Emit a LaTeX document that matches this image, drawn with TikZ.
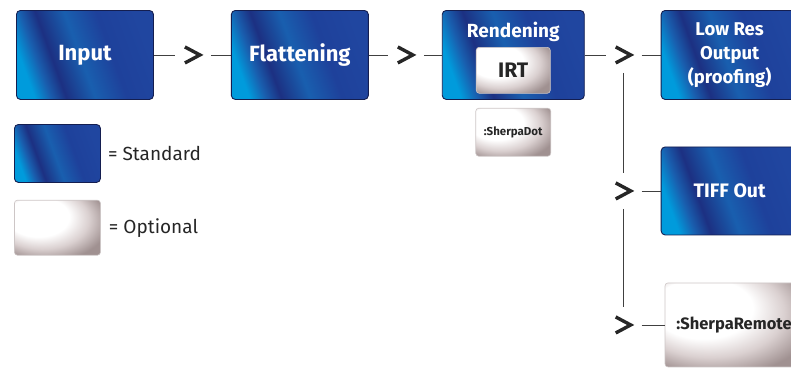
\documentclass[tikz,border=0pt]{standalone}
\usepackage{fontspec}
\setmainfont{Fira Sans}
\usepackage{tikz}
\usetikzlibrary{positioning}
\definecolor{StdA}{RGB}{0,155,220}
\definecolor{StdB}{RGB}{28,48,130}
\definecolor{StdC}{RGB}{25,95,175}
\definecolor{StdD}{RGB}{30,65,155}
\definecolor{StdE}{RGB}{32,70,160}
\definecolor{StdEdge}{RGB}{20,30,80}
\definecolor{OptB}{RGB}{218,208,208}
\definecolor{OptC}{RGB}{160,145,145}
\definecolor{OptEdge}{RGB}{205,198,198}
\pgfdeclarehorizontalshading{StandardShade}{100bp}{color(0bp)=(StdA); color(25bp)=(StdA);
  color(31bp)=(StdC); color(37bp)=(StdB); color(48bp)=(StdC); color(60bp)=(StdD);
  color(75bp)=(StdE); color(100bp)=(StdE)}
\pgfdeclareradialshading{OptionalShade}{\pgfpoint{-16bp}{14bp}}{color(0bp)=(white);
  color(18bp)=(white); color(27bp)=(OptB); color(36bp)=(OptC); color(60bp)=(OptC)}

\begin{document}
\begin{tikzpicture}[x=1pt,y=-1pt]
\tikzset{StandardStyle/.style = {shape          = rectangle,
                                 rounded corners = 4pt,
                                 draw           = StdEdge,
                                 line width     = 0.9pt,
                                 shade,
                                 shading        = StandardShade,
                                 shading angle  = 20,
                                 text           = white,
                                 align          = center,
                                 font           = \bfseries\fontsize{22}{26}\selectfont,
                                 minimum width  = 137pt,
                                 minimum height = 89pt},
         OptionalStyle/.style = {shape          = rectangle,
                                 rounded corners = 3pt,
                                 draw           = OptEdge,
                                 line width     = 0.6pt,
                                 shade,
                                 shading        = OptionalShade,
                                 text           = black!85,
                                 align          = center},
         ChevronStyle/.style = {shape          = rectangle,
                                inner sep      = 0pt,
                                outer sep      = 7pt,
                                minimum size   = 22pt,
                                path picture   = {\draw[black!85,line width=3.4pt,line join=miter]
                                  ([shift={(-8,-8)}]path picture bounding box.center)
                                  -- ([shift={(7,0)}]path picture bounding box.center)
                                  -- ([shift={(-8,8)}]path picture bounding box.center);}},
         LinkStyle/.style = {line width=0.8pt, draw=black!75},
         KeyStyle/.style = {inner sep=0pt, text=black!85, font=\fontsize{19}{22}\selectfont}}
     \clip (0,0) rectangle (791,367);
     % main chain
     \node[StandardStyle,anchor=north west](In) at (16,10){Input};
     \node[ChevronStyle,right=21pt of In](C1){};
     \node[StandardStyle,right=20pt of C1](Fl){Flattening};
     \node[ChevronStyle,right=19pt of Fl](C2){};
     \node[StandardStyle,minimum width=142pt,right=18pt of C2](Re){};
     \node[text=white,font=\bfseries\fontsize{19}{22}\selectfont,below=9pt of Re.north](ReT){Rendening};
     \node[OptionalStyle,minimum width=74pt,minimum height=46pt,font=\bfseries\fontsize{21}{24}\selectfont,
           below=37pt of Re.north](IRT){IRT};
     \node[OptionalStyle,minimum width=75pt,minimum height=48pt,font=\bfseries\fontsize{11.5}{13}\selectfont,
           below=8pt of Re](SD){:SherpaDot};
     \node[ChevronStyle,right=21pt of Re](C3){};
     \node[StandardStyle,font=\bfseries\fontsize{18.5}{24}\selectfont,right=19pt of C3](LR){Low Res\\Output\\(proofing)};
     % outputs
     \node[ChevronStyle,below=100pt of C3](C4){};
     \node[StandardStyle,minimum height=88pt,font=\bfseries\fontsize{19.5}{23}\selectfont,right=19pt of C4](TI){TIFF Out};
     \node[ChevronStyle,below=98pt of C4](C5){};
     \node[OptionalStyle,minimum width=138pt,minimum height=84pt,font=\bfseries\fontsize{16.5}{20}\selectfont,
           right=23pt of C5](SR){:SherpaRemote};
     % key
     \node[StandardStyle,minimum width=86pt,minimum height=58pt,anchor=north west](KS) at (14,124){};
     \node[KeyStyle,right=7pt of KS](KST){= Standard};
     \node[OptionalStyle,minimum width=86pt,minimum height=55pt,below=17pt of KS](KO){};
     \node[KeyStyle,right=8pt of KO](KOT){= Optional};
     % links
     \draw[LinkStyle](In) -- (C1);
     \draw[LinkStyle](C1) -- (Fl);
     \draw[LinkStyle](Fl) -- (C2);
     \draw[LinkStyle](C2) -- (Re);
     \draw[LinkStyle](Re) -- (C3);
     \draw[LinkStyle](C3) -- (C3 -| LR.west);
     \draw[LinkStyle](C3) -- (C4);
     \draw[LinkStyle](C4) -- (C5);
     \draw[LinkStyle](C4) -- (C4 -| TI.west);
     \draw[LinkStyle](C5) -- (C5 -| SR.west);
\end{tikzpicture}
\end{document}
